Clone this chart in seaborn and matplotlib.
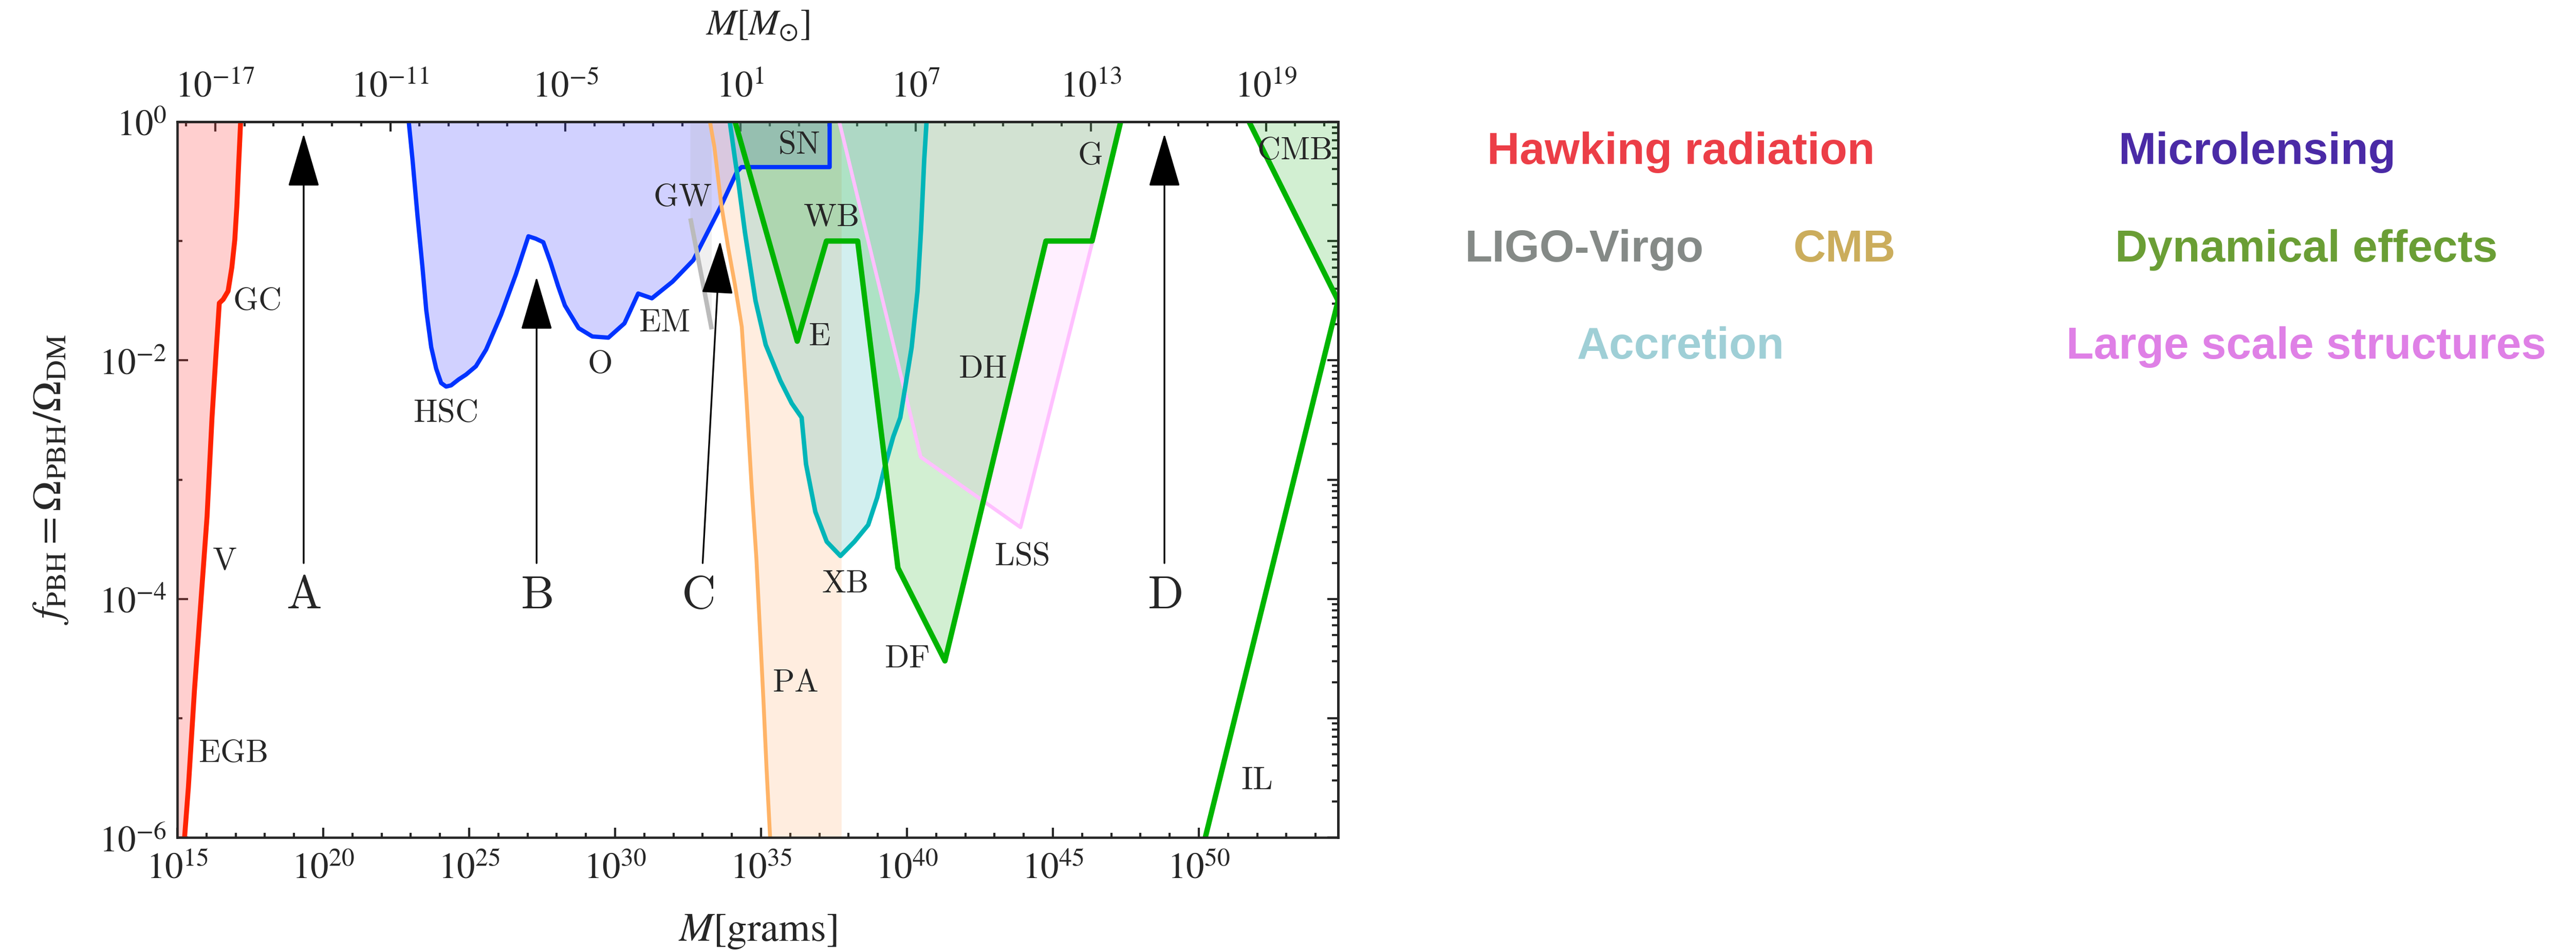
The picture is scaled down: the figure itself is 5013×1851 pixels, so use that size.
import matplotlib

matplotlib.use("Agg")
import matplotlib.pyplot as plt
from matplotlib.ticker import FixedLocator, FuncFormatter, NullFormatter
import numpy as np
import seaborn as sns


MSUN_G = 1.989e33

# all curves as log10(M / grams) and log10(f_PBH)
hawking_logm = [15.25, 15.38, 15.59, 15.80, 16.02, 16.19, 16.32, 16.44, 16.57, 16.74, 16.87, 16.97, 17.04, 17.11, 17.17]
hawking_logf = [-6.0, -5.58, -4.76, -4.05, -3.31, -2.48, -1.97, -1.52, -1.49, -1.42, -1.22, -0.99, -0.71, -0.32, 0.0]

lensing_logm = [22.93, 23.06, 23.23, 23.40, 23.53, 23.70, 23.87, 24.04, 24.21, 24.38, 24.64, 24.89, 25.23, 25.58,
                26.09, 26.60, 27.03, 27.28, 27.54, 27.79, 28.05, 28.28, 28.75, 29.22, 29.77, 30.32, 30.79, 31.26,
                31.97, 32.68, 33.62, 34.17, 34.33, 37.35, 37.35]
lensing_logf = [0.0, -0.32, -0.79, -1.22, -1.58, -1.89, -2.07, -2.19, -2.22, -2.21, -2.16, -2.12, -2.05, -1.91,
                -1.62, -1.28, -0.96, -0.98, -1.01, -1.18, -1.38, -1.54, -1.73, -1.80, -1.81, -1.69, -1.44, -1.48,
                -1.34, -1.16, -0.71, -0.42, -0.38, -0.38, 0.0]

gw_logm = [32.58, 33.31]
gw_logf = [-0.81, -1.74]

cmb_logm = [33.25, 33.40, 33.64, 33.87, 34.10, 34.34, 34.49, 34.68, 34.84, 34.96, 35.08, 35.19, 35.31]
cmb_logf = [0.0, -0.21, -0.70, -1.05, -1.36, -1.72, -2.28, -3.07, -3.66, -4.25, -4.84, -5.43, -6.0]
cmb_edge_logm = 37.76

accretion_logm = [33.93, 34.10, 34.22, 34.45, 34.81, 35.16, 35.66, 36.05, 36.39, 36.54, 36.86, 37.25, 37.72,
                  38.20, 38.67, 38.98, 39.22, 39.53, 39.77, 40.16, 40.36, 40.48, 40.59, 40.67]
accretion_logf = [0.0, -0.30, -0.50, -0.93, -1.50, -1.87, -2.17, -2.36, -2.48, -2.87, -3.27, -3.52, -3.64,
                  -3.52, -3.38, -3.15, -2.91, -2.64, -2.48, -1.89, -1.42, -0.91, -0.32, 0.0]

lss_logm = [37.68, 40.47, 43.89, 46.34, 47.32]
lss_logf = [0.0, -2.81, -3.40, -1.02, 0.0]

dynamical_logm = [34.11, 36.24, 37.24, 38.31, 39.69, 41.30, 44.76, 46.34, 47.32]
dynamical_logf = [0.0, -1.84, -1.00, -1.00, -3.74, -4.52, -1.00, -1.00, 0.0]

cmb_il_logm = [51.72, 54.77, 50.22]
cmb_il_logf = [0.0, -1.50, -6.0]

region_labels = ["GC", "V", "EGB", "HSC", "O", "EM", "GW", "SN", "WB", "E", "XB", "PA", "DF", "DH", "LSS", "G",
                 "CMB", "IL"]
label_logm = [17.72, 16.61, 16.91, 24.19, 29.47, 31.69, 32.30, 36.29, 37.39, 37.00, 37.87, 36.17, 40.00, 42.60,
              43.93, 46.27, 53.27, 51.98]
label_logf = [-1.50, -3.68, -5.29, -2.44, -2.03, -1.68, -0.63, -0.19, -0.80, -1.80, -3.87, -4.70, -4.50, -2.07,
              -3.64, -0.28, -0.24, -5.52]

arrow_labels = ["A", "B", "C", "D"]
arrow_tail_logm = [19.33, 27.31, 33.00, 48.82]
arrow_tip_logm = [19.33, 27.31, 33.60, 48.82]
arrow_tip_logf = [-0.10, -1.30, -1.00, -0.10]
arrow_label_logm = [19.33, 27.31, 32.83, 48.82]

legend_names = ["Hawking radiation", "Microlensing", "LIGO-Virgo", "CMB", "Dynamical effects", "Accretion",
                "Large scale structures"]
legend_colors = ["#EC3E47", "#4A2AA6", "#858A87", "#CBAD5C", "#6A9E35", "#9FCFD6", "#DF80E6"]


def tp(values):
    return 10.0 ** np.asarray(values, dtype=float)


def pow_label(v, pos=None):
    return r"$10^{%d}$" % round(np.log10(v))


def line(ax, xs, ys, color, lw):
    sns.lineplot(x=tp(xs), y=tp(ys), sort=False, estimator=None, color=color, linewidth=lw, ax=ax,
                 solid_capstyle="butt")


def main() -> None:
    sns.set_style("ticks")
    plt.rcParams.update({"mathtext.fontset": "stix", "axes.linewidth": 1.1, "font.family": ["DejaVu Serif"]})

    fig = plt.figure(figsize=(5013 / 300, 1851 / 300), dpi=300)
    ax = fig.add_axes([345 / 5013, 1 - 1630 / 1851, (2604 - 345) / 5013, (1630 - 237) / 1851])
    ax.set_xscale("log")
    ax.set_yscale("log")
    ax.set_xlim(1e15, tp(54.77))
    ax.set_ylim(1e-6, 1.0)

    # fills, bottom to top
    ax.fill(tp(lensing_logm), tp(lensing_logf), color="#4040FF", alpha=0.24, lw=0)
    ax.fill(tp(gw_logm + gw_logm[::-1]), tp(gw_logf + [0.0, 0.0]), color="#999999", alpha=0.14, lw=0)
    ax.fill(tp(hawking_logm + [14.0, 14.0]), tp(hawking_logf + [0.0, -6.5]), color="#FF4040", alpha=0.25, lw=0)
    ax.fill(tp(cmb_logm + [cmb_edge_logm, cmb_edge_logm]), tp(cmb_logf + [-6.5, 0.0]), color="#FFA050",
            alpha=0.18, lw=0)
    ax.fill(tp(lss_logm), tp(lss_logf), color="#FF80FF", alpha=0.12, lw=0)
    ax.fill(tp(accretion_logm), tp(accretion_logf), color="#20B0B0", alpha=0.2, lw=0)
    ax.fill(tp(dynamical_logm), tp(dynamical_logf), color="#20B020", alpha=0.2, lw=0)
    ax.fill(tp(cmb_il_logm[:2] + [56.0]), tp(cmb_il_logf[:2] + [0.0]), color="#20B020", alpha=0.2, lw=0)

    # boundary lines
    line(ax, lensing_logm, lensing_logf, "#0033FF", 2.0)
    line(ax, gw_logm, gw_logf, "#BBBBBB", 2.1)
    line(ax, hawking_logm, hawking_logf, "#FF2200", 2.3)
    line(ax, cmb_logm, cmb_logf, "#FFB366", 1.8)
    line(ax, lss_logm, lss_logf, "#FFC0FF", 1.7)
    line(ax, accretion_logm, accretion_logf, "#00B5B8", 2.1)
    line(ax, dynamical_logm, dynamical_logf, "#00B400", 2.5)
    line(ax, cmb_il_logm, cmb_il_logf, "#00B400", 2.5)

    for name, lx, ly in zip(region_labels, label_logm, label_logf):
        ax.text(tp(lx), tp(ly), r"$\mathrm{%s}$" % name, ha="center", va="center", fontsize=15,
                math_fontfamily="cm")

    for name, xt, xh, yh, xl in zip(arrow_labels, arrow_tail_logm, arrow_tip_logm, arrow_tip_logf,
                                    arrow_label_logm):
        ax.annotate("", xy=(tp(xh), tp(yh)), xytext=(tp(xt), tp(-3.70)),
                    arrowprops=dict(arrowstyle="-|>,head_length=1.6,head_width=0.47", lw=0.8, color="black",
                                    mutation_scale=14, shrinkA=0, shrinkB=0))
        ax.text(tp(xl), tp(-3.97), r"$\mathrm{%s}$" % name, ha="center", va="center", fontsize=22,
                math_fontfamily="cm")

    # bottom axis in grams
    ax.xaxis.set_major_locator(FixedLocator(tp(np.arange(15, 55, 5))))
    ax.xaxis.set_minor_locator(FixedLocator(tp(np.arange(15, 56))))
    ax.xaxis.set_major_formatter(FuncFormatter(pow_label))
    ax.xaxis.set_minor_formatter(NullFormatter())
    ax.yaxis.set_major_locator(FixedLocator(tp([-6, -4, -2, 0])))
    ax.yaxis.set_minor_locator(FixedLocator(tp([-5, -3, -1])))
    ax.yaxis.set_major_formatter(FuncFormatter(pow_label))
    ax.yaxis.set_minor_formatter(NullFormatter())
    ax.tick_params(which="both", direction="in", top=False, right=False, width=1.0, labelsize=17)
    ax.tick_params(axis="x", which="major", length=4.6, pad=6)
    ax.tick_params(axis="x", which="minor", length=2.2)
    ax.tick_params(axis="y", which="major", length=5, pad=5)
    ax.tick_params(axis="y", which="minor", length=2.5)

    # top axis in solar masses
    top = ax.secondary_xaxis("top", functions=(lambda m: m / MSUN_G, lambda m: m * MSUN_G))
    top.xaxis.set_major_locator(FixedLocator(tp(np.arange(-17, 20, 6))))
    top.xaxis.set_minor_locator(FixedLocator(tp(np.arange(-19, 23))))
    top.xaxis.set_major_formatter(FuncFormatter(pow_label))
    top.xaxis.set_minor_formatter(NullFormatter())
    top.tick_params(which="both", direction="in", width=1.0, labelsize=17)
    top.tick_params(which="major", length=4.6, pad=8)
    top.tick_params(which="minor", length=2.2)
    top.set_xlabel(r"$M[M_{\odot}]$", fontsize=17, labelpad=16)

    right = ax.secondary_yaxis("right")
    right.yaxis.set_major_locator(FixedLocator(tp(np.arange(-6, 1))))
    right.yaxis.set_minor_locator(FixedLocator(np.concatenate([tp(d) * np.arange(2, 10) for d in range(-6, 0)])))
    right.yaxis.set_major_formatter(NullFormatter())
    right.yaxis.set_minor_formatter(NullFormatter())
    right.tick_params(which="both", direction="in", width=1.0)
    right.tick_params(which="major", length=5)
    right.tick_params(which="minor", length=3)

    ax.set_xlabel(r"$M[\mathrm{grams}]$", fontsize=19, va="center")
    ax.xaxis.set_label_coords(0.5, -(1812 - 1630) / 1393)
    ax.set_ylabel(r"$f_{\mathrm{PBH}}=\Omega_{\mathrm{PBH}}/\Omega_{\mathrm{DM}}$", fontsize=19, va="center")
    ax.yaxis.set_label_coords(-(345 - 98) / 2259, 0.5)

    legend_x = [0.6525, 0.8761, 0.6150, 0.7160, 0.8953, 0.6525, 0.8953]
    legend_y = [0.8277, 0.8277, 0.7250, 0.7250, 0.7250, 0.6229, 0.6229]
    for name, color, tx, ty in zip(legend_names, legend_colors, legend_x, legend_y):
        fig.text(tx, ty, name, color=color, ha="center", va="baseline", fontsize=21, fontweight="bold",
                 family=["Liberation Sans", "DejaVu Sans"])

    fig.savefig("out.png", dpi=300)
    plt.close(fig)


if __name__ == "__main__":
    main()
